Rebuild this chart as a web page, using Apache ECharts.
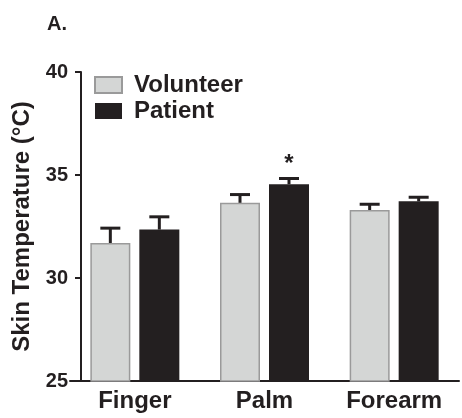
<!DOCTYPE html>
<html><head><meta charset="utf-8">
<script src="https://cdn.jsdelivr.net/npm/echarts@6/dist/echarts.min.js"></script>
<style>html,body{margin:0;padding:0;background:#fff}#c{width:462px;height:418px}</style>
</head><body><div id="c"></div>
<script>
var categories = ['Finger', 'Palm', 'Forearm'];
var volunteerMean = [31.7, 33.65, 33.3];
var volunteerErr = [0.72, 0.4, 0.28];
var patientMean = [32.35, 34.55, 33.72];
var patientErr = [0.62, 0.28, 0.2];
var significant = ['', '', ''];
significant[1] = '*';
var yTicks = [25, 30, 35, 40];

var BAR_W = 40, GAP = 9;
var FONT = 'Liberation Sans, Arial, sans-serif';
var INK = '#231f20';

function errSeries(name, means, errs, side) {
  return {
    type: 'custom', name: name + ' err', z: 5,
    data: means.map(function (m, i) { return [i, m, m + errs[i]]; }),
    renderItem: function (params, api) {
      var off = side * (BAR_W + GAP) / 2;
      var p0 = api.coord([api.value(0), api.value(1)]);
      var p1 = api.coord([api.value(0), api.value(2)]);
      var x = p0[0] + off;
      return { type: 'group', children: [
        { type: 'line', shape: { x1: x, y1: p0[1], x2: x, y2: p1[1] }, style: { stroke: INK, lineWidth: 3 } },
        { type: 'line', shape: { x1: x - 10, y1: p1[1], x2: x + 10, y2: p1[1] }, style: { stroke: INK, lineWidth: 3 } }
      ]};
    }
  };
}

var chart = echarts.init(document.getElementById('c'));
chart.setOption({
  animation: false,
  title: { text: 'A.', left: 42, top: 9, textStyle: { fontFamily: FONT, fontSize: 20, fontWeight: 'bold', color: INK } },
  legend: {
    orient: 'vertical', left: 89, top: 68, itemWidth: 27, itemHeight: 16, itemGap: 2,
    icon: 'rect',
    data: ['Volunteer', 'Patient'],
    textStyle: { fontFamily: FONT, fontSize: 24, fontWeight: 'bold', color: INK, padding: [0, 0, 0, 7] }
  },
  grid: { left: 70, right: 3, top: 72, bottom: 37 },
  xAxis: {
    type: 'category', data: categories,
    axisLine: { lineStyle: { color: INK, width: 2 } },
    axisTick: { show: false },
    axisLabel: { fontFamily: FONT, fontSize: 24, fontWeight: 'bold', color: INK, margin: 8 }
  },
  yAxis: {
    type: 'value', min: 25, max: 40, interval: 5, offset: -11,
    name: 'Skin Temperature (°C)', nameLocation: 'middle', nameGap: 42,
    nameTextStyle: { fontFamily: FONT, fontSize: 24, fontWeight: 'bold', color: INK },
    axisLine: { show: true, lineStyle: { color: INK, width: 2 } },
    axisTick: { show: true, inside: false, length: 6, lineStyle: { color: INK, width: 2 } },
    axisLabel: { fontFamily: FONT, fontSize: 20, fontWeight: 'bold', color: INK, margin: 13,
      formatter: function (v) { return yTicks.indexOf(v) >= 0 ? String(v) : ''; } },
    splitLine: { show: false }
  },
  series: [
    { name: 'Volunteer', type: 'bar', barWidth: BAR_W, barGap: (GAP / BAR_W * 100) + '%', data: volunteerMean,
      itemStyle: { color: '#d4d6d5', borderColor: '#9a9a9a', borderWidth: 1.5 } },
    { name: 'Patient', type: 'bar', barWidth: BAR_W, data: patientMean.map(function (v, i) {
        return { value: v, label: { show: !!significant[i], formatter: significant[i], position: 'top', distance: 8,
          fontFamily: FONT, fontSize: 24, fontWeight: 'bold', color: INK } };
      }),
      itemStyle: { color: INK } },
    errSeries('Volunteer', volunteerMean, volunteerErr, -1),
    errSeries('Patient', patientMean, patientErr, 1)
  ]
});
</script></body></html>
